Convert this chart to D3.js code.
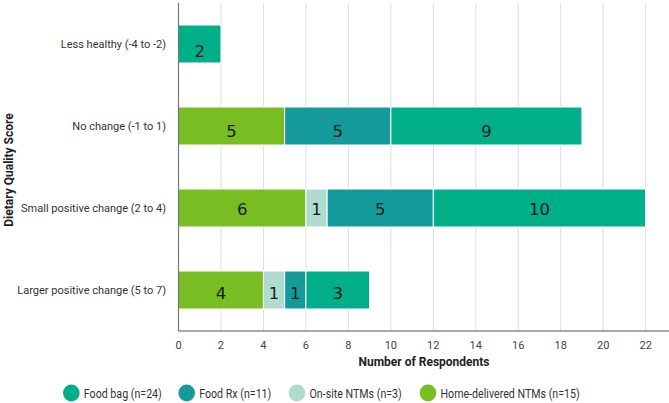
<!DOCTYPE html>
<html>
<head>
<meta charset="utf-8">
<script src="https://cdn.jsdelivr.net/npm/d3@7"></script>
<style>
  body { margin: 0; background: #fff; }
  text { font-family: Roboto, "Noto Sans", sans-serif; }
</style>
</head>
<body>
<div id="chart"></div>
<script>
// categories top to bottom
let categories = ["Less healthy (-4 to -2)", "No change (-1 to 1)", "Small positive change (2 to 4)", "Larger positive change (5 to 7)"];
// series in stacking order (left to right)
let series = ["Home-delivered NTMs (n=15)", "On-site NTMs (n=3)", "Food Rx (n=11)", "Food bag (n=24)"];
let homeDelivered = [0, 5, 6, 4];
let onSite = [0, 0, 1, 1];
let foodRx = [0, 5, 5, 1];
let foodBag = [2, 9, 10, 3];
let xTicks = [0, 2, 4, 6, 8, 10, 12, 14, 16, 18, 20, 22];
// legend order
let legendOrder = ["Food bag (n=24)", "Food Rx (n=11)", "On-site NTMs (n=3)", "Home-delivered NTMs (n=15)"];

let colors = {
    "Food bag (n=24)": "#00ae88",
    "Food Rx (n=11)": "#159a9c",
    "On-site NTMs (n=3)": "#afdccf",
    "Home-delivered NTMs (n=15)": "#78bd22"
};

let canWidth = 669, canHeight = 403;
let plotLeft = 178.5, plotRight = 669, plotTop = 3, plotBottom = 331;
// vertical nudge of the value labels, per row
let labelDy = [12.5, 11, 7, 8.5];

let svg = d3.select("#chart").append("svg")
    .attr("width", canWidth)
    .attr("height", canHeight);

let x = d3.scaleLinear().domain([0, 23.1]).range([plotLeft, plotRight]);
let y = d3.scaleBand().domain(categories).range([plotTop, plotBottom])
    .paddingInner(0.537).paddingOuter(0.2685);

let table = categories.map((c, i) => ({
    cat: c,
    [series[0]]: homeDelivered[i],
    [series[1]]: onSite[i],
    [series[2]]: foodRx[i],
    [series[3]]: foodBag[i]
}));
let stacked = d3.stack().keys(series)(table);

// gridlines
svg.append("g").selectAll("line")
    .data(xTicks.filter(d => d > 0))
    .join("line")
    .attr("x1", d => x(d)).attr("x2", d => x(d))
    .attr("y1", plotTop).attr("y2", plotBottom)
    .attr("stroke", "#dedede").attr("stroke-width", 1);

// bars
let groups = svg.append("g").selectAll("g")
    .data(stacked)
    .join("g")
    .attr("fill", d => colors[d.key]);

groups.selectAll("rect")
    .data(d => d.filter(p => p[1] - p[0] > 0))
    .join("rect")
    .attr("x", d => x(d[0]))
    .attr("y", d => y(d.data.cat))
    .attr("width", d => x(d[1]) - x(d[0]))
    .attr("height", y.bandwidth())
    .attr("stroke", "#fff").attr("stroke-width", 1);

groups.selectAll("text")
    .data(d => d.filter(p => p[1] - p[0] > 0))
    .join("text")
    .attr("x", d => (x(d[0]) + x(d[1])) / 2)
    .attr("y", d => y(d.data.cat) + y.bandwidth() / 2 + labelDy[categories.indexOf(d.data.cat)])
    .attr("text-anchor", "middle")
    .style("font-family", "'DejaVu Sans', sans-serif")
    .style("font-size", "16.5px")
    .attr("fill", "#1a1a1a")
    .text(d => d[1] - d[0]);

// axes lines
svg.append("line")
    .attr("x1", plotLeft).attr("x2", plotLeft).attr("y1", plotTop).attr("y2", plotBottom)
    .attr("stroke", "#777").attr("stroke-width", 1.2);
svg.append("line")
    .attr("x1", plotLeft).attr("x2", plotRight).attr("y1", plotBottom).attr("y2", plotBottom)
    .attr("stroke", "#555").attr("stroke-width", 1.2);

// x tick labels
svg.append("g").selectAll("text")
    .data(xTicks)
    .join("text")
    .attr("x", d => x(d))
    .attr("y", 349)
    .attr("text-anchor", "middle")
    .style("font-size", "11px")
    .attr("fill", "#444")
    .text(d => d);

// category labels
svg.append("g").selectAll("text")
    .data(categories)
    .join("text")
    .attr("x", 166)
    .attr("y", d => y(d) + y.bandwidth() / 2 + 4)
    .attr("text-anchor", "end")
    .style("font-size", "11px")
    .attr("fill", "#333")
    .text(d => d);

// axis titles
svg.append("text")
    .attr("x", 424)
    .attr("y", 366)
    .attr("text-anchor", "middle")
    .style("font-size", "12px").style("font-weight", "bold")
    .attr("fill", "#222")
    .text("Number of Respondents");

svg.append("text")
    .attr("transform", "translate(13,170) rotate(-90)")
    .attr("text-anchor", "middle")
    .style("font-size", "12px").style("font-weight", "bold")
    .attr("fill", "#222")
    .text("Dietary Quality Score");

// legend
let legendX = [71.3, 186.7, 297, 428];
let legend = svg.append("g").selectAll("g")
    .data(legendOrder)
    .join("g")
    .attr("transform", (d, i) => "translate(" + legendX[i] + ",393)");
legend.append("ellipse")
    .attr("rx", 8.3).attr("ry", 8.5)
    .attr("fill", d => colors[d]);
legend.append("text")
    .attr("transform", "translate(12.5,4.5) scale(0.82,1)")
    .style("font-size", "13px")
    .attr("fill", "#333")
    .text(d => d);
</script>
</body>
</html>
